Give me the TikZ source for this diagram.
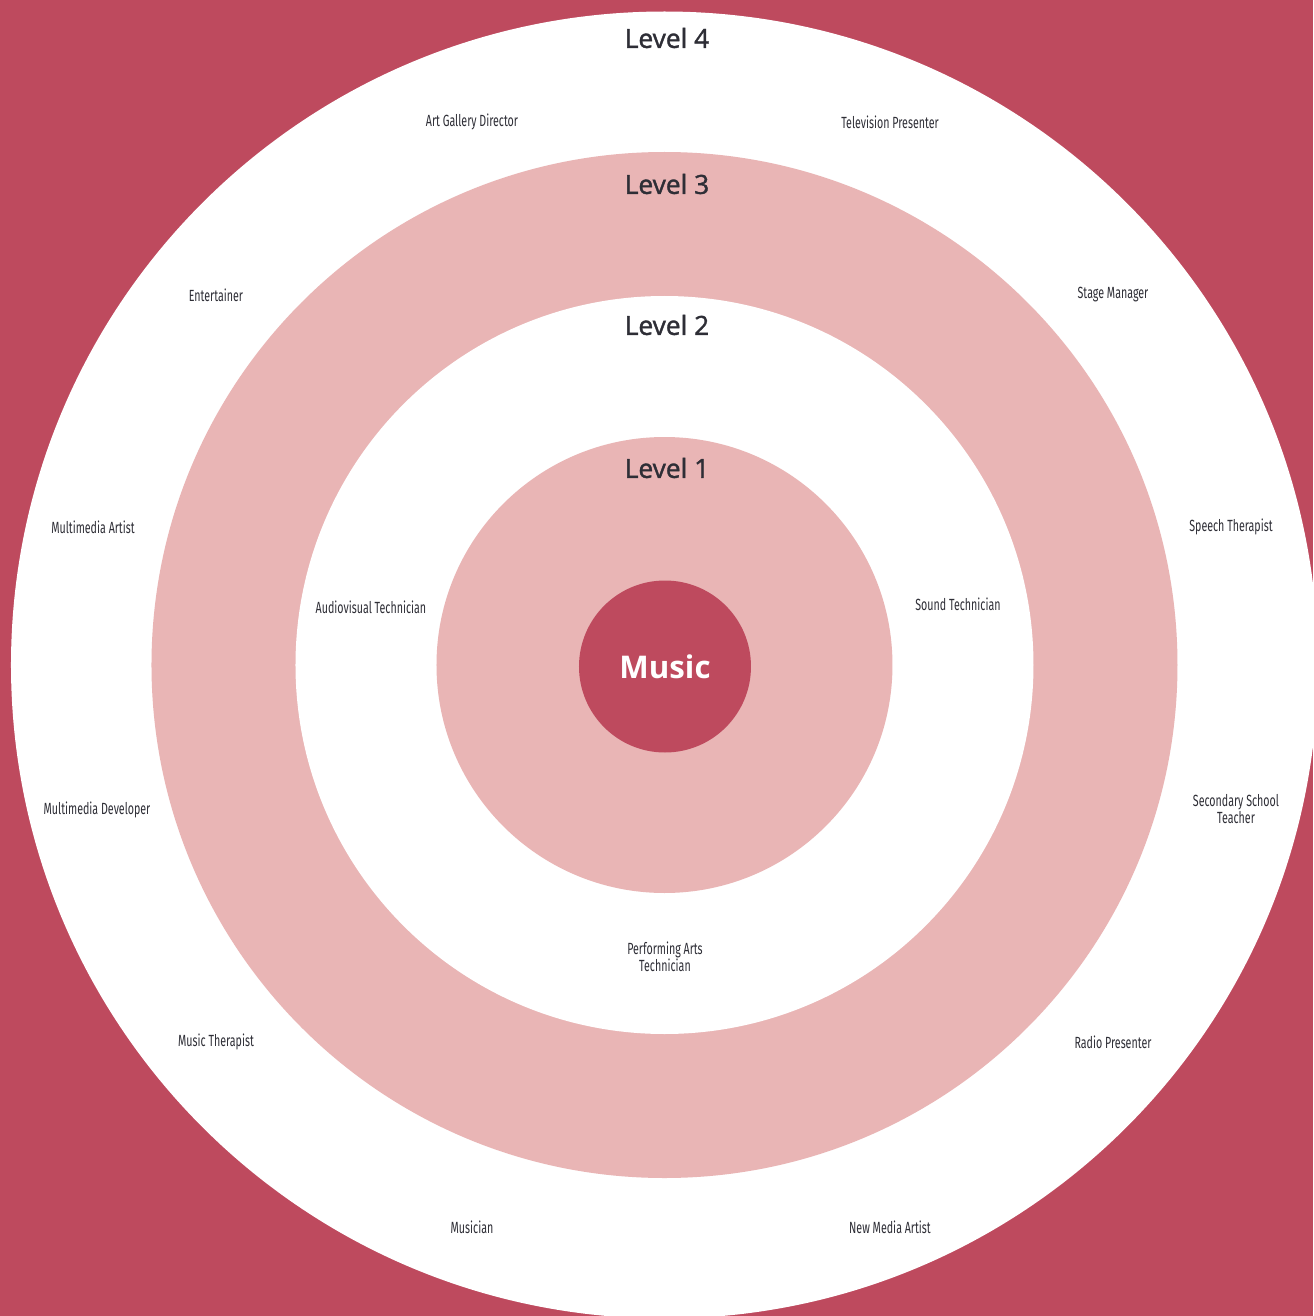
\documentclass[tikz,border=0pt]{standalone}
\usepackage{fontspec}
\setmainfont{Open Sans}
\newfontfamily\levelfont[FakeBold=1.4]{Open Sans}
\newfontfamily\jobfont[FakeStretch=0.66]{Fira Sans}
\definecolor{bgred}{HTML}{BE4A5E}
\definecolor{ringpink}{HTML}{E9B5B5}
\definecolor{labelgray}{HTML}{2E2E36}

\begin{document}
\begin{tikzpicture}[x=0.02cm, y=0.02cm,
    level/.style={text=labelgray, font=\levelfont\fontsize{15}{17}\selectfont, inner sep=0pt},
    job/.style={text=labelgray, font=\jobfont\fontsize{9.2}{9.6}\selectfont, align=center, inner sep=0pt}]
      % Define the radii of the rings
      \def\RingFour{653.5}
      \def\RingThree{513}
      \def\RingTwo{369}
      \def\RingOne{228}
      \def\CoreRadius{86}

      % Background and bounding box
      \fill[bgred] (-664.5,-651) rectangle (648.5,665);
      \useasboundingbox (-664.5,-651) rectangle (648.5,665);

      % Draw the rings
      \fill[white] (0,0) circle (\RingFour);
      \fill[ringpink] (0,0) circle (\RingThree);
      \fill[white] (0,0) circle (\RingTwo);
      \fill[ringpink] (0,0) circle (\RingOne);
      \fill[bgred] (0.5,-1.5) circle (\CoreRadius);

      % Label the rings
      \node[level] (lvl4) at (2.5,627) {Level 4};
      \node[level] (lvl3) at (2.5,481) {Level 3};
      \node[level] (lvl2) at (2.5,340) {Level 2};
      \node[level] (lvl1) at (2.5,197) {Level 1};
      \node[text=white, font=\bfseries\fontsize{17.8}{19}\selectfont, inner sep=0pt] (music) at (0.5,-2) {Music};

      % Level 2 jobs
      \node[job] (audiovisual) at (-293.5,58) {Audiovisual Technician};
      \node[job] (sound) at (293.5,61) {Sound Technician};
      \node[job] (performing) at (0.5,-292) {Performing Arts\\Technician};

      % Level 4 jobs
      \node[job] (gallery) at (-192.5,543) {Art Gallery Director};
      \node[job] (television) at (225.5,543) {Television Presenter};
      \node[job] (entertainer) at (-448.5,370) {Entertainer};
      \node[job] (stage) at (448.5,370) {Stage Manager};
      \node[job] (mmartist) at (-571.5,138) {Multimedia Artist};
      \node[job] (speech) at (566.5,138) {Speech Therapist};
      \node[job] (mmdeveloper) at (-567.5,-145) {Multimedia Developer};
      \node[job] (teacher) at (571.5,-144) {Secondary School\\Teacher};
      \node[job] (therapist) at (-448.5,-377) {Music Therapist};
      \node[job] (radio) at (448.5,-377) {Radio Presenter};
      \node[job] (musician) at (-192.5,-562) {Musician};
      \node[job] (newmedia) at (225.5,-562) {New Media Artist};
    \end{tikzpicture}
\end{document}
